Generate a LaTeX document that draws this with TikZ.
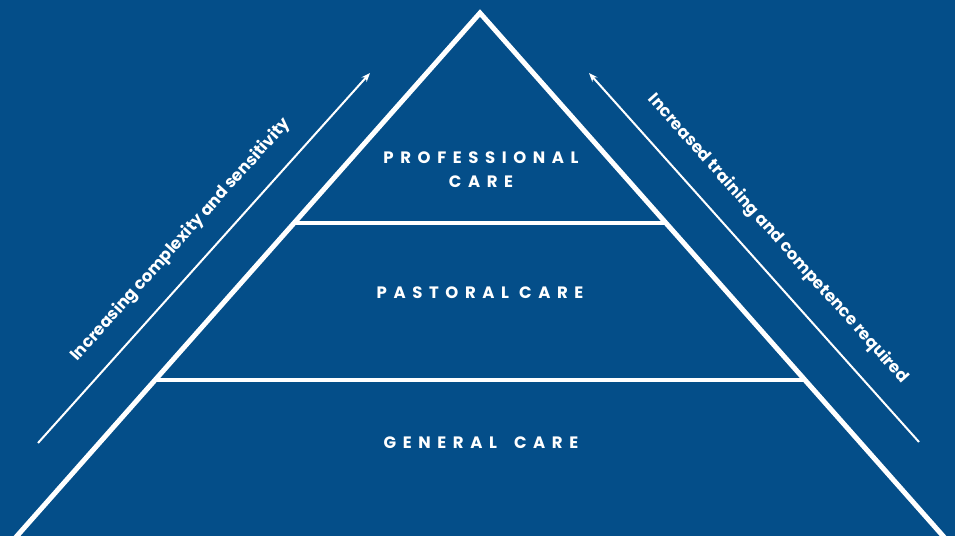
\documentclass[tikz,border=0pt]{standalone}
\usepackage{fontspec}
\setmainfont{Poppins}
\newfontfamily\capsfont[LetterSpace=40]{Poppins}
\usetikzlibrary{arrows.meta}

\definecolor{careblue}{RGB}{4,78,137}

\tikzset{
  tier/.style={font=\capsfont\bfseries\fontsize{16.5}{24}\selectfont, text=white, align=center},
  side/.style={font=\bfseries\fontsize{16.5}{18}\selectfont, text=white},
  climb/.style={white, line width=2pt, -{Stealth[length=9pt,width=7pt]}}
}

\begin{document}
\begin{tikzpicture}[x=1pt,y=-1pt]

    \fill[careblue] (0,0) rectangle (955,536);
    \useasboundingbox (0,0) rectangle (955,536);

    % Pyramid
    \draw[white, line width=5pt, miter limit=10] (9,545) -- (480,13) -- (951,545);

    %% Levels
    \draw[white, line width=4pt] (294,223) -- (666,223);
    \draw[white, line width=4pt] (155,380) -- (805,380);

    \node[tier] (professional) at (481,170) {PROFESSIONAL\\CARE};
    \node[tier] (pastoral) at (480,293) {PASTORAL CARE};
    \node[tier] (general) at (481,443) {GENERAL\hspace{7pt} CARE};

    % Left arrow
    \coordinate (lstart) at (38,443);
    \coordinate (lend) at (370,73);
    \draw[climb] (lstart) -- (lend);
    \node[side, rotate=48.1] (complexity) at (181,240) {Increasing complexity and sensitivity};

    % Right arrow
    \coordinate (rstart) at (919,442);
    \coordinate (rend) at (589,73);
    \draw[climb] (rstart) -- (rend);
    \node[side, rotate=-48.2] (training) at (778,239) {Increased training and competence required};

\end{tikzpicture}
\end{document}
